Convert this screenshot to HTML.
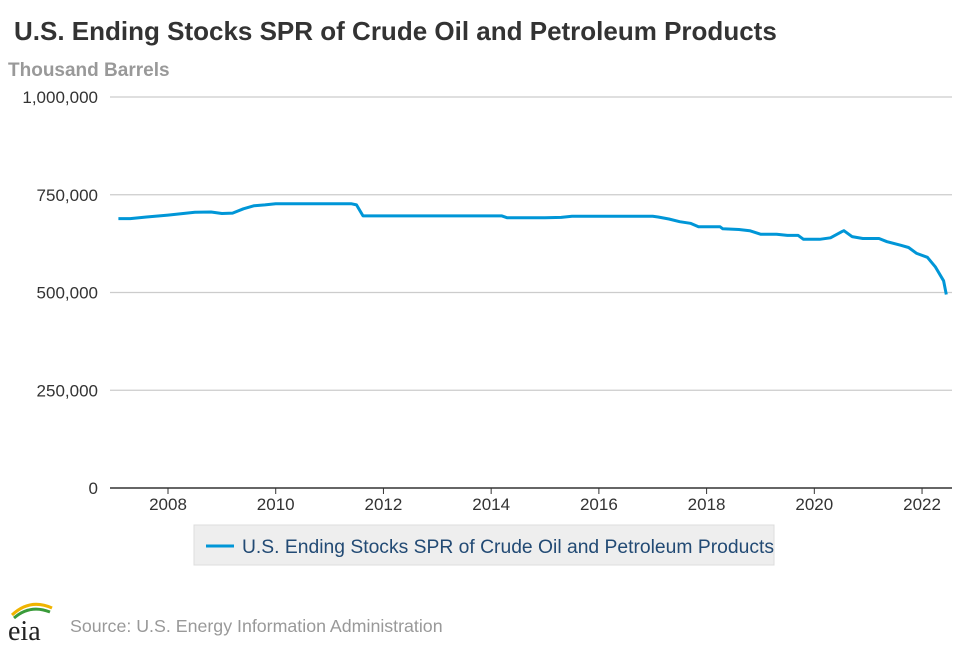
<!DOCTYPE html>
<html><head><meta charset="utf-8"><style>
body{margin:0;width:970px;height:647px;background:#fff;font-family:"Liberation Sans",sans-serif;overflow:hidden}
</style></head><body>
<svg width="970" height="647">
<text x="14" y="40" font-size="26" font-weight="bold" fill="#333">U.S. Ending Stocks SPR of Crude Oil and Petroleum Products</text>
<text x="8" y="76" font-size="19" font-weight="bold" fill="#999">Thousand Barrels</text>
<g id="grid"></g><g id="xt"></g>
<path id="line" fill="none" stroke="#0096d7" stroke-width="3" stroke-linejoin="round"/>
<g>
<rect x="194" y="525" width="580" height="40" fill="#eee" stroke="#ddd"/>
<line x1="206" y1="546" x2="234" y2="546" stroke="#0096d7" stroke-width="3"/>
<text x="242" y="553" font-size="19" fill="#224a74" textLength="532" lengthAdjust="spacingAndGlyphs">U.S. Ending Stocks SPR of Crude Oil and Petroleum Products</text>
</g>
<g>
<path d="M12 615 Q30 598 52 608" stroke="#f0b400" stroke-width="3" fill="none"/>
<path d="M14 618 Q30 604 50 612" stroke="#3a9b3a" stroke-width="3" fill="none"/>
<text x="8" y="640" font-size="28" font-family="Liberation Serif,serif" fill="#222">eia</text>
</g>
<text x="70" y="632" font-size="17.8" fill="#999">Source: U.S. Energy Information Administration</text>
</svg>
<script>
const yTicks=[0,250000,500000,750000,1000000];
const xTicks=[2008,2010,2012,2014,2016,2018,2020,2022];
const years=[2007.08,2007.3,2007.6,2008,2008.5,2008.8,2009,2009.2,2009.4,2009.6,2009.8,2010,2010.5,2011,2011.4,2011.5,2011.62,2012,2013,2014,2014.2,2014.3,2015,2015.3,2015.5,2016,2016.5,2017,2017.1,2017.3,2017.5,2017.7,2017.85,2018,2018.25,2018.3,2018.6,2018.8,2019,2019.3,2019.5,2019.7,2019.8,2020.1,2020.3,2020.5,2020.55,2020.7,2020.9,2021,2021.2,2021.35,2021.6,2021.75,2021.9,2022.1,2022.25,2022.4,2022.45];
const values=[689000,689000,693000,698000,705000,706000,702000,703000,714000,722000,724000,727000,727000,727000,727000,724000,696000,696000,696000,696000,696000,691000,691000,692000,695000,695000,695000,695000,693000,688000,681000,677000,668000,668000,668000,663000,661000,658000,649000,649000,646000,646000,636000,636000,640000,655000,658000,643000,638000,638000,638000,630000,621000,615000,600000,590000,565000,530000,495000];
const X=y=>168+(y-2008)*53.86, Y=v=>488-v/1e6*391;
const ns="http://www.w3.org/2000/svg";
const g=document.getElementById('grid');
yTicks.forEach(t=>{
const l=document.createElementNS(ns,'line');


l.setAttribute('x1',110);l.setAttribute('x2',952);l.setAttribute('y1',Y(t));l.setAttribute('y2',Y(t));
l.setAttribute('stroke',t===0?'#333':'#ccc');l.setAttribute('stroke-width',t===0?1.5:1.2);g.appendChild(l);
const tx=document.createElementNS(ns,'text');


tx.setAttribute('x',98);tx.setAttribute('y',Y(t)+6);tx.setAttribute('text-anchor','end');tx.setAttribute('font-size','17');tx.setAttribute('fill','#333');
tx.textContent=t.toLocaleString('en-US');g.appendChild(tx);
});
const xt=document.getElementById('xt');
xTicks.forEach(t=>{
const l=document.createElementNS(ns,'line');


l.setAttribute('x1',X(t));l.setAttribute('x2',X(t));l.setAttribute('y1',488);l.setAttribute('y2',494);l.setAttribute('stroke','#333');xt.appendChild(l);
const tx=document.createElementNS(ns,'text');


tx.setAttribute('x',X(t));tx.setAttribute('y',510);tx.setAttribute('text-anchor','middle');tx.setAttribute('font-size','17');tx.setAttribute('fill','#333');
tx.textContent=t;xt.appendChild(tx);
});
document.getElementById('line').setAttribute('d',years.map((y,i)=>(i?'L':'M')+X(y).toFixed(1)+' '+Y(values[i]).toFixed(1)).join(' '));
</script>
</body></html>
